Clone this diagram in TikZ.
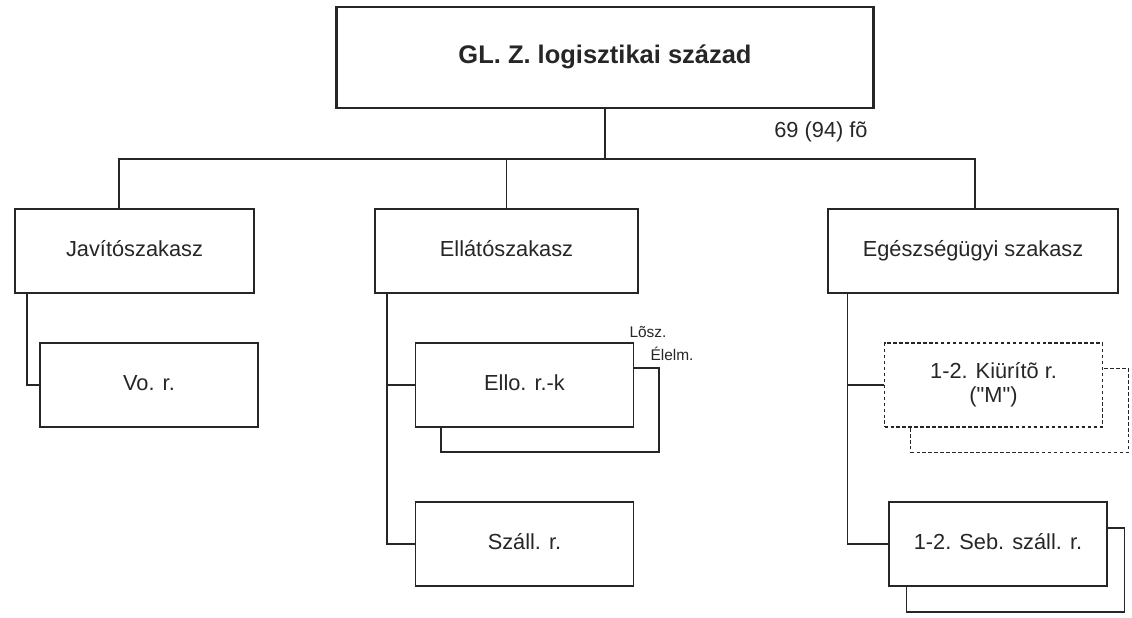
\documentclass[tikz,border=0pt]{standalone}
\usepackage{fontspec}
\setmainfont{Liberation Sans}
\usetikzlibrary{positioning}

\begin{document}
\begin{tikzpicture}[
    x=0.02cm, y=-0.02cm,
    unitbox/.style={
        draw=black!85,
        fill=white,
        line width=0.7pt,
        minimum width=4.36cm,
        minimum height=1.68cm,
        inner sep=2pt,
        text height=8.6pt,
        text depth=2.6pt,
        font=\fontsize{12.4}{13.6}\selectfont,
        text=black!85,
        align=center
    },
    dashbox/.style={
        unitbox,
        dash pattern=on 2pt off 1.4pt
    },
    link/.style={draw=black!85, line width=0.7pt}
]
    \useasboundingbox (0,0) rectangle (1132,618);

    % Company
    \node[unitbox, line width=1.5pt, minimum width=10.74cm, minimum height=2.02cm,
          text height=10pt, text depth=3pt,
          font=\fontsize{14.5}{17}\selectfont\bfseries] (top) at (605,57.5) {GL. Z. logisztikai század};
    \node[font=\fontsize{12.4}{14}\selectfont, text=black!85] (strength) at (821,132) {69 (94) fõ};

    % Platoons
    \node[unitbox, minimum width=4.78cm] (javito) at (134.5,251) {Javítószakasz};
    \node[unitbox, minimum width=5.26cm] (ellato) at (506.5,251) {Ellátószakasz};
    \node[unitbox, minimum width=5.8cm] (egesz) at (973,251) {Egészségügyi szakasz};

    % Squads
    \node[unitbox] (vo) at (149,385) {Vo. r.};
    \node[unitbox] (elloB) at (550,410) {};
    \node[unitbox] (ello) at (524.5,385) {Ello. r.-k};
    \node[unitbox] (szall) at (524.5,544) {Száll. r.};
    \node[dashbox] (kiuritoB) at (1019.5,410.5) {};
    \node[dashbox, text height=22.2pt] (kiurito) at (993.5,385) {1-2. Kiürítõ r.\\(\textquotedbl M\textquotedbl)};
    \node[unitbox] (sebB) at (1015.5,570) {};
    \node[unitbox] (seb) at (998,544) {1-2. Seb. száll. r.};

    \node[font=\fontsize{8.8}{10}\selectfont, text=black!85] (losz) at (648,332) {Lõsz.};
    \node[font=\fontsize{8.8}{10}\selectfont, text=black!85] (elelm) at (672,354) {Élelm.};

    % Bus
    \coordinate (bus) at (605,159);
    \draw[link] (top.south) -- (bus);
    \draw[link] ([xshift=-0.31cm]javito.north) |- (bus);
    \draw[link] ([xshift=0.04cm]egesz.north) |- (bus);
    \draw[link] (ellato.north) -- (ellato.north |- bus);

    % Sub lines
    \draw[link] ([xshift=-2.15cm]javito.south) |- (vo.west);
    \coordinate (ellsub) at ([xshift=-2.39cm]ellato.south);
    \draw[link] (ellsub) |- (szall.west);
    \draw[link] (ello.west) -- (ello.west -| ellsub);
    \coordinate (egsub) at ([xshift=-2.51cm]egesz.south);
    \draw[link] (egsub) |- (seb.west);
    \draw[link] (kiurito.west) -- (kiurito.west -| egsub);
\end{tikzpicture}
\end{document}
